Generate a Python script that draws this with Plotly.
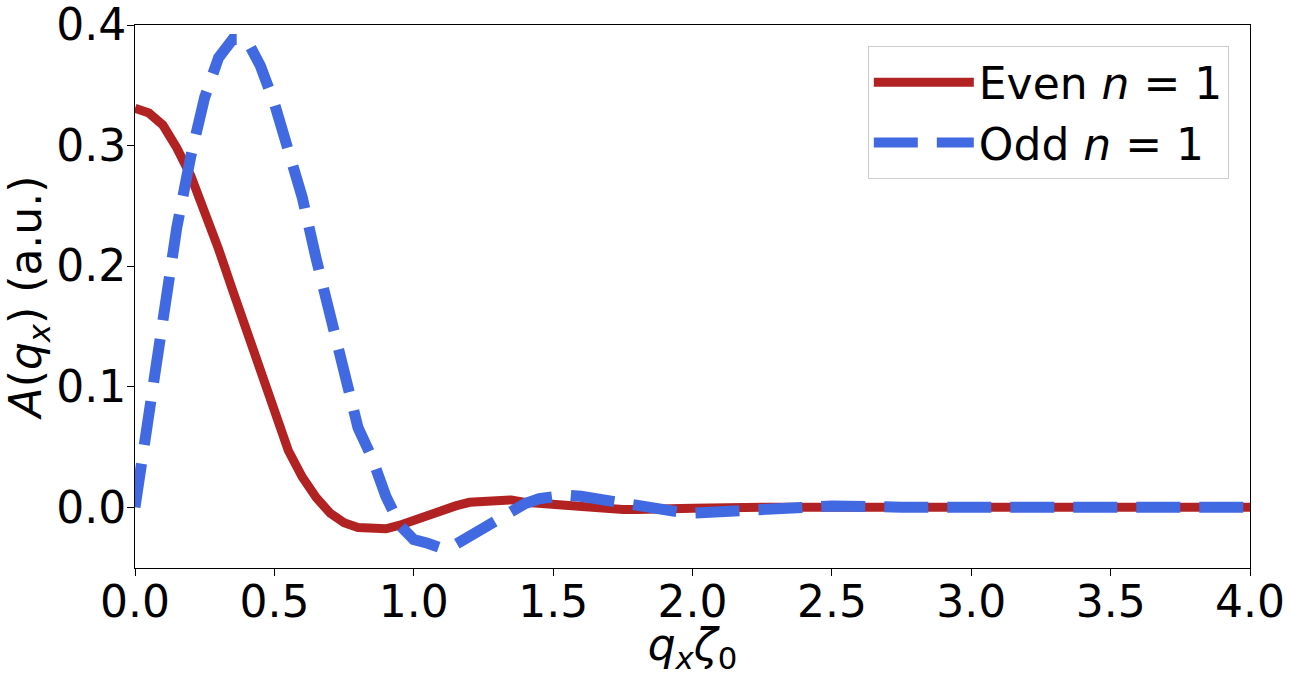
import plotly.graph_objects as go

# q_x * zeta_0 sample points
qx = [0.0, 0.05, 0.1, 0.15, 0.2, 0.25, 0.3, 0.35, 0.4, 0.45,
      0.5, 0.55, 0.6, 0.65, 0.7, 0.75, 0.8, 0.85, 0.9, 0.95,
      1.0, 1.05, 1.1, 1.15, 1.2, 1.25, 1.3, 1.35, 1.4, 1.45,
      1.5, 1.55, 1.6, 1.65, 1.7, 1.75, 1.8, 1.85, 1.9, 1.95,
      2.0, 2.25, 2.5, 2.75, 3.0, 3.25, 3.5, 3.75, 4.0]

even_n1 = [0.331, 0.327, 0.317, 0.298, 0.275, 0.246, 0.214, 0.180, 0.146, 0.110,
           0.077, 0.047, 0.025, 0.008, -0.005, -0.013, -0.017, -0.018, -0.018, -0.015,
           -0.011, -0.006, -0.002, 0.001, 0.004, 0.005, 0.006, 0.006, 0.004, 0.003,
           0.002, 0.001, 0.000, -0.001, -0.002, -0.002, -0.002, -0.002, -0.001, -0.001,
           -0.001, 0.0, 0.0, 0.0, 0.0, 0.0, 0.0, 0.0, 0.0]

odd_n1 = [0.0, 0.075, 0.162, 0.232, 0.291, 0.340, 0.373, 0.388, 0.388, 0.366,
          0.335, 0.298, 0.257, 0.206, 0.160, 0.113, 0.066, 0.041, 0.009, -0.015,
          -0.027, -0.030, -0.034, -0.031, -0.024, -0.017, -0.010, -0.003, 0.003, 0.007,
          0.009, 0.010, 0.009, 0.007, 0.005, 0.002, 0.000, -0.002, -0.003, -0.004,
          -0.005, -0.002, 0.001, 0.0, 0.0, 0.0, 0.0, 0.0, 0.0]

x_ticks = [0.0, 0.5, 1.0, 1.5, 2.0, 2.5, 3.0, 3.5, 4.0]
y_ticks = [0.0, 0.1, 0.2, 0.3, 0.4]

FONT = "DejaVu Sans"
FS = 44

fig = go.Figure()
fig.add_trace(go.Scatter(x=qx, y=even_n1, mode="lines", name="Even <i>n</i> = 1",
                         line=dict(color="#b22222", width=9)))
fig.add_trace(go.Scatter(x=qx, y=odd_n1, mode="lines", name="Odd <i>n</i> = 1",
                         line=dict(color="#4169e1", width=11, dash="44px,19px")))

axis_common = dict(showline=True, linecolor="black", linewidth=1, mirror=True,
                   ticks="outside", ticklen=7, tickcolor="black", showgrid=False,
                   zeroline=False, automargin=False, ticklabeloverflow="allow",
                   tickfont=dict(family=FONT, size=FS, color="black"))

fig.update_xaxes(range=[0, 4], tickvals=x_ticks, ticktext=[f"{v:.1f}" for v in x_ticks],
                 ticklabelstandoff=-12,
                 title=dict(text="<i>q</i><sub><i>x</i></sub><i>ζ</i><sub>0</sub>",
                            font=dict(family=FONT, size=FS, color="black"), standoff=2),
                 **axis_common)
fig.update_yaxes(range=[-0.0505, 0.4], tickvals=y_ticks, ticktext=[f"{v:.1f}" for v in y_ticks],
                 ticklabelstandoff=-8,
                 title=dict(text="<i>A</i>(<i>q</i><sub><i>x</i></sub>) (a.u.)",
                            font=dict(family=FONT, size=FS, color="black"), standoff=10),
                 **axis_common)

fig.update_layout(
    width=1293, height=676,
    margin=dict(l=135, r=43, t=25, b=108),
    plot_bgcolor="white", paper_bgcolor="white",
    font=dict(family=FONT, size=FS, color="black"),
    legend=dict(x=0.981, y=0.961, xanchor="right", yanchor="top",
                bgcolor="rgba(255,255,255,0.8)", bordercolor="#cccccc", borderwidth=1,
                font=dict(family=FONT, size=FS, color="black"), itemwidth=100),
    showlegend=True,
)

fig.write_html("out.html", config={"displayModeBar": False},
               post_script="document.body.style.margin = '0';")
